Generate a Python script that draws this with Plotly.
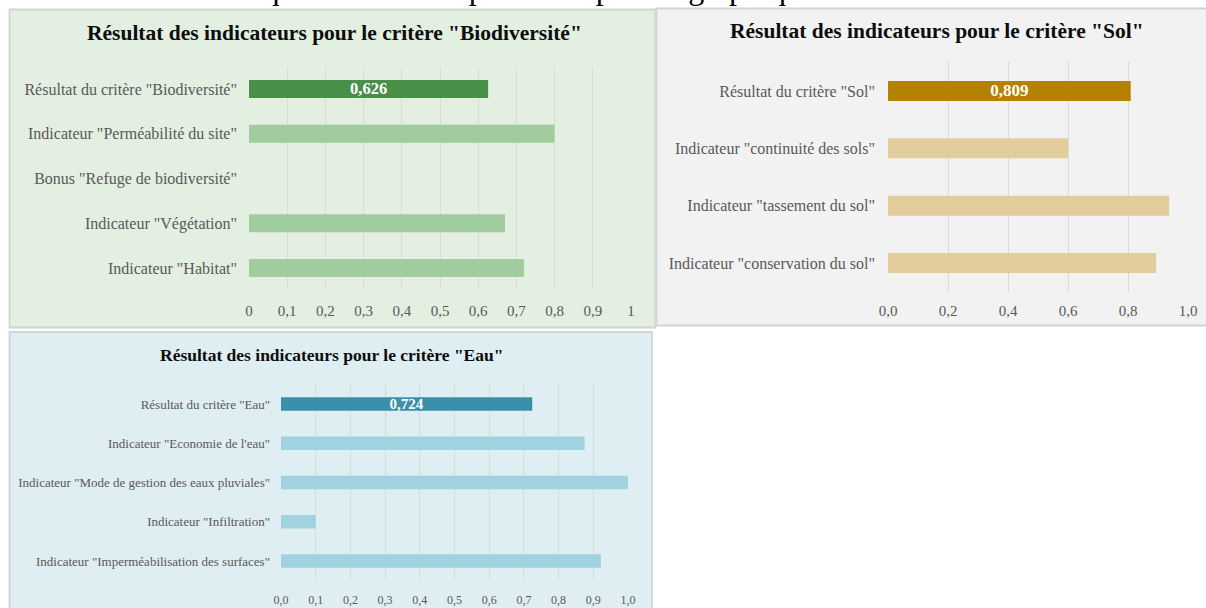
import plotly.graph_objects as go

W, H = 1206, 608

# ---------------- data ----------------
bio_labels = ['Résultat du critère "Biodiversité"', 'Indicateur "Perméabilité du site"',
              'Bonus "Refuge de biodiversité"', 'Indicateur "Végétation"', 'Indicateur "Habitat"']
bio_values = [0.626, 0.80, 0.0, 0.67, 0.72]

sol_labels = ['Résultat du critère "Sol"', 'Indicateur "continuité des sols"',
              'Indicateur "tassement du sol"', 'Indicateur "conservation du sol"']
sol_values = [0.809, 0.60, 0.937, 0.894]

eau_labels = ['Résultat du critère "Eau"', 'Indicateur "Economie de l\'eau"',
              'Indicateur "Mode de gestion des eaux pluviales"', 'Indicateur "Infiltration"',
              'Indicateur "Imperméabilisation des surfaces"']
eau_values = [0.724, 0.875, 1.0, 0.10, 0.922]

titles = ['Résultat des indicateurs pour le critère "Biodiversité"',
          'Résultat des indicateurs pour le critère "Sol"',
          'Résultat des indicateurs pour le critère "Eau"']
header_text = "Les résultats de chaque critère sont présentés par les graphiques suivants :"

SERIF = "Liberation Serif, Times New Roman, serif"
GRAY = "#595959"


def px(x):
    return x / W


def py(y):
    return 1 - y / H


def fmt(v):
    return f"{v:.3f}".replace(".", ",")


panels = [
    dict(labels=bio_labels, values=bio_values, dark="#4A8F47", light="#A0CC9E",
         bg="#E2EFE1", rect=(9.5, 9.5, 655.5, 327.5),
         xdom=(249, 631), ytop=66.6, ybot=290.4, width=0.40, lab=16, tick=15,
         fmt="", ystand=11, xstand=10, title=(334, 33, 21.5), txt=16.5),
    dict(labels=sol_labels, values=sol_values, dark="#B58100", light="#E3CD9C",
         bg="#F2F2F2", rect=(656.5, 8.5, 1212, 325.5),
         xdom=(888, 1188), ytop=62.3, ybot=291.7, width=0.35, lab=16, tick=15,
         fmt=".1f", ystand=12, xstand=8, title=(937, 31, 21.5), txt=17),
    dict(labels=eau_labels, values=eau_values, dark="#3891A8", light="#A0D2E0",
         bg="#DEEEF3", rect=(9.5, 332, 652, 616),
         xdom=(281, 628), ytop=384.4, ybot=580.6, width=0.34, lab=13, tick=12,
         fmt=".1f", ystand=10, xstand=10, title=(331, 355, 17.5), txt=15),
]

fig = go.Figure()
shapes = []
annotations = []
layout_axes = {}

for i, p in enumerate(panels, start=1):
    xa = "x" if i == 1 else f"x{i}"
    ya = "y" if i == 1 else f"y{i}"
    colors = [p["dark"]] + [p["light"]] * (len(p["values"]) - 1)
    texts = [fmt(p["values"][0])] + [""] * (len(p["values"]) - 1)
    fig.add_trace(go.Bar(
        x=p["values"], y=p["labels"], orientation="h",
        marker=dict(color=colors, line=dict(width=0)),
        width=p["width"], text=texts, textposition="inside",
        insidetextanchor="middle", textangle=0,
        textfont=dict(family=SERIF, size=p["txt"], color="white", weight="bold"),
        xaxis=xa, yaxis=ya, showlegend=False, hoverinfo="skip",
        cliponaxis=False,
    ))
    x0, y0, x1, y1 = p["rect"]
    shapes.append(dict(type="rect", xref="paper", yref="paper",
                       x0=px(x0), x1=px(x1), y0=py(y1), y1=py(y0),
                       fillcolor=p["bg"], line=dict(color="#D4D4D4", width=1.8),
                       layer="below"))
    tx, ty, ts = p["title"]
    annotations.append(dict(text=f"<b>{titles[i-1]}</b>", xref="paper", yref="paper",
                            x=px(tx), y=py(ty), xanchor="center", yanchor="middle",
                            showarrow=False, font=dict(family=SERIF, size=ts, color="#0D0D0D")))
    xkey = "xaxis" if i == 1 else f"xaxis{i}"
    ykey = "yaxis" if i == 1 else f"yaxis{i}"
    layout_axes[xkey] = dict(
        domain=[px(p["xdom"][0]), px(p["xdom"][1])], range=[0, 1.0],
        dtick=0.1 if i != 2 else 0.2, tick0=0, tickformat=p["fmt"],
        showgrid=True, gridcolor="#DADADA", gridwidth=1, zeroline=False,
        showline=False, ticks="", anchor=ya, fixedrange=True, automargin=False,
        tickfont=dict(family=SERIF, size=p["tick"], color=GRAY),
        ticklabelstandoff=p["xstand"],
    )
    layout_axes[ykey] = dict(
        domain=[py(p["ybot"]), py(p["ytop"])], autorange="reversed",
        type="category", categoryorder="array", categoryarray=p["labels"],
        showgrid=False, zeroline=False, showline=False, ticks="",
        anchor=xa, fixedrange=True, automargin=False,
        tickfont=dict(family=SERIF, size=p["lab"], color=GRAY),
        ticklabelstandoff=p["ystand"],
    )

# sentence of the surrounding document, mostly cut off by the top edge
annotations.append(dict(text=header_text, xref="paper", yref="paper",
                        x=px(10), y=py(-12), xanchor="left", yanchor="middle",
                        showarrow=False, font=dict(family=SERIF, size=32, color="#000000")))

fig.update_layout(
    width=W, height=H, margin=dict(l=0, r=0, t=0, b=0, autoexpand=False),
    paper_bgcolor="white", plot_bgcolor="rgba(0,0,0,0)",
    separators=", ", shapes=shapes, annotations=annotations,
    uniformtext=dict(minsize=8, mode="show"),
    **layout_axes,
)

fig.write_html("out.html", config={"displayModeBar": False},
               post_script="document.body.style.margin='0';document.body.style.overflow='hidden';")
